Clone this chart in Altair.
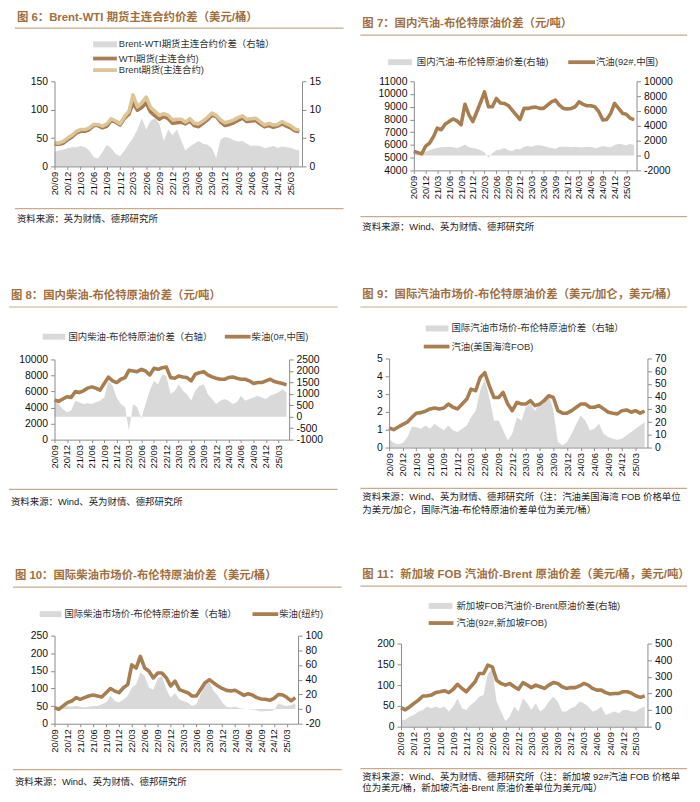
import altair as alt
import pandas as pd

FONT = "'Liberation Sans', 'Noto Sans CJK SC', sans-serif"
TITLE_COLOR = "#a0703f"
RULE_COLOR = "#c8aa8c"
AREA_COLOR = "#d9d9d9"
LINE_BROWN = "#a87d50"
LINE_TAN = "#dcc597"
AXIS_COLOR = "#8c8c8c"
CELL_W, CELL_H = 342, 261

# monthly observations, 2020-09 .. 2025-05
months = pd.date_range("2020-09-01", periods=57, freq="MS")

# Fig 6: Brent / WTI futures (USD/bbl) and Brent-WTI spread (right axis)
brent6 = [42, 41, 44, 50, 55, 62, 65, 65, 68, 74, 74, 71, 75, 84, 80, 75, 88, 97, 126, 105,
          112, 122, 104, 97, 90, 93, 90, 82, 83, 83, 78, 84, 76, 75, 80, 86, 94, 90, 82, 77,
          79, 82, 86, 89, 83, 84, 85, 79, 73, 76, 73, 74, 79, 75, 72, 66, 64]
wti6 = [39, 39, 41, 47, 52, 59, 62, 62, 65, 72, 72, 68, 71, 81, 78, 73, 85, 92, 112, 99,
        104, 112, 96, 89, 83, 88, 84, 76, 77, 78, 75, 80, 72, 70, 76, 82, 90, 88, 78, 72,
        74, 77, 81, 85, 79, 80, 81, 75, 70, 72, 69, 71, 75, 71, 68, 63, 61]
spread6 = [2.6, 2.8, 3.0, 3.2, 3.4, 3.4, 3.6, 3.4, 2.8, 1.6, 1.4, 2.6, 3.8, 3.2, 2.2, 1.8, 2.8, 4.0, 5.0, 6.5,
           8.5, 6.5, 8.0, 8.5, 7.5, 4.5, 6.5, 5.5, 6.5, 4.5, 2.8, 3.5, 4.0, 4.5, 4.0, 3.8, 3.2, 1.5, 4.8, 5.2,
           5.0, 4.6, 4.4, 4.5, 4.0, 3.6, 3.7, 3.6, 3.2, 3.4, 3.6, 3.3, 3.5, 3.4, 3.3, 3.0, 2.8]

# Fig 7: domestic gasoline (CNY/t) and spread vs Brent (right axis)
gas7 = [5500, 5400, 5300, 5900, 6150, 6670, 7320, 7190, 7630, 7840, 8040, 7890, 7580, 9200, 8360, 7840, 8610, 9390, 10170, 9000,
        9000, 9650, 9300, 9260, 9100, 8740, 8360, 8000, 8870, 8870, 8940, 8970, 8870, 8870, 9130, 9390, 9520, 9130, 8870, 8820,
        8870, 9000, 9390, 9190, 9080, 9080, 9000, 8610, 7970, 8000, 8480, 9260, 8870, 8480, 8410, 8100, 7970]
spread7 = [300, 250, 400, 500, 700, 900, 1000, 1100, 1150, 1200, 1100, 1000, 1200, 1500, 1100, 1000, 900, 700, 400, -300,
           300, 700, 800, 1000, 700, 600, 900, 800, 1200, 1300, 1200, 1400, 1400, 1300, 1100, 1000, 900, 1200, 1200, 1200,
           1100, 1200, 1100, 1100, 1200, 1200, 1000, 1100, 1300, 1200, 1100, 1400, 1600, 1500, 1400, 1600, 1400]

# Fig 8: domestic diesel (CNY/t) and spread vs Brent (right axis)
diesel8 = [4940, 4770, 5060, 5350, 5270, 6000, 5880, 6090, 6420, 6580, 6420, 6170, 7000, 7800, 7330, 7120, 7530, 7740, 8640, 8560,
           8480, 8770, 8560, 8070, 8890, 8770, 8970, 9050, 7740, 7650, 7940, 7820, 7740, 7330, 8150, 8350, 8480, 8070, 7820, 7650,
           7530, 7530, 7740, 7820, 7650, 7530, 7530, 7330, 7000, 7120, 7120, 7330, 7530, 7240, 7120, 7000, 6830]
spread8 = [700, 555, 340, 195, 270, 700, 630, 555, 585, 555, 630, 700, 840, 1560, 1350, 840, 555, 410, -600, 555,
           410, -90, 555, 1130, 1560, 1420, 1850, 1780, 990, 1130, 1420, 1130, 990, 700, 1130, 1350, 1420, 990, 770, 555,
           700, 770, 700, 555, 630, 915, 700, 770, 840, 915, 840, 770, 915, 990, 1060, 1200, 1060]

# Fig 9: US Gulf FOB gasoline (USD/gal) and spread vs Brent (USD/bbl, right axis)
gas9 = [1.11, 1.0, 1.15, 1.30, 1.43, 1.70, 1.93, 1.96, 2.04, 2.17, 2.22, 2.17, 2.22, 2.44, 2.26, 2.17, 2.44, 2.72, 3.28, 3.19,
        3.93, 4.2, 3.46, 2.81, 2.81, 3.09, 2.44, 2.07, 2.54, 2.44, 2.44, 2.63, 2.35, 2.44, 2.63, 2.91, 2.81, 2.07, 1.93, 1.93,
        2.07, 2.26, 2.44, 2.44, 2.26, 2.26, 2.35, 2.17, 1.98, 1.93, 1.89, 2.07, 2.11, 1.98, 2.07, 1.93, 2.04]
spread9 = [7, 3.6, 2.6, 3.6, 8.3, 16.6, 16, 14.8, 17.4, 14.8, 18.7, 16, 13.5, 17.4, 13.5, 12.2, 14.8, 17.4, 23.9, 29,
           44.6, 53.7, 39.4, 21.3, 21.3, 13.5, 5.7, 10.9, 23.9, 21.3, 31.6, 34.2, 29, 34.2, 39.4, 42, 29, 4.4, 1.8, 4.4,
           10.9, 18.7, 25.1, 21.3, 13.5, 14.8, 18.7, 10.9, 8.3, 7, 6.2, 7, 9.6, 12.2, 14.8, 17.4, 20]

# Fig 10: NY diesel (USD/bbl) and spread vs Brent (right axis)
diesel10 = [45.9, 41, 50.6, 60, 64.6, 74, 69, 74, 78.7, 81.5, 78.7, 75.8, 88, 100, 92.7, 88, 102, 111, 167, 158,
            191, 158, 149, 130, 144, 144, 130, 107, 121, 97, 92.7, 88, 78.7, 78.7, 97, 116, 125, 116, 107, 100,
            94.6, 92.7, 95, 88, 80.5, 85, 81.5, 74, 70, 69.3, 66.5, 72, 83, 81.5, 75, 64.6, 74]
spread10 = [0, 1, 2, 4, 3, 4, 3, 2, 3, 4, 4, 6.5, 9, 18, 11, 9, 13, 18, 29, 33.5,
            50, 45, 29, 26.7, 42, 45, 26.7, 15.5, 22, 13, 11, 9, 4, 6.5, 20, 35, 37, 24.5, 18, 9,
            3, 2, 3, 1, 0.3, 0.2, -0.7, -1.6, -3.4, -2.5, -2.5, -1.6, 7.4, 5.6, 4, 5.6, 7.4]

# Fig 11: Singapore 92# FOB gasoline (USD/bbl) and spread vs Brent (USD/t, right axis)
gas11 = [46, 40.5, 48, 56, 64, 74, 74, 76, 82, 84, 86.5, 82, 90, 102, 92, 84, 96, 108, 128, 128,
         148, 144, 112, 104, 100, 104, 96, 90, 106, 100, 94, 100, 96, 92, 100, 106, 104, 96, 92, 94,
         94, 98, 104, 100, 92, 88, 88, 82, 78.6, 80, 80, 84, 84, 80, 74, 70.6, 74]
spread11 = [42, 42, 61.5, 71, 91, 101, 121, 111, 121, 111, 121, 91, 121, 171, 111, 101, 131, 151, 180, 190,
            319, 349, 151, 91, 32, 61.5, 121, 91, 171, 141, 101, 141, 91, 111, 151, 180, 151, 91, 91, 111,
            121, 151, 141, 121, 91, 101, 121, 71, 81, 91, 81, 101, 101, 91, 91, 111, 121]

tick_dates = [alt.DateTime(year=2020 + (8 + 3 * i) // 12, month=(8 + 3 * i) % 12 + 1, date=1) for i in range(19)]
x_domain = [alt.DateTime(year=2020, month=9, date=1), alt.DateTime(year=2025, month=5, date=20)]

one = pd.DataFrame({"k": [0]})


def text_layer(txt, x, y, size, color="#222222", weight="normal"):
    return alt.Chart(one).mark_text(
        text=txt, align="left", baseline="middle", font=FONT, fontSize=size,
        fontWeight=weight, color=color
    ).encode(x=alt.value(x), y=alt.value(y))


def hrule(x1, x2, y, color, width):
    return alt.Chart(one).mark_rule(color=color, strokeWidth=width).encode(
        x=alt.value(x1), x2=alt.value(x2), y=alt.value(y))


def rect(x1, x2, y1, y2, color):
    return alt.Chart(one).mark_rect(color=color).encode(
        x=alt.value(x1), x2=alt.value(x2), y=alt.value(y1), y2=alt.value(y2))


def xaxis():
    return alt.Axis(values=tick_dates, format="%y/%m", labelAngle=270, labelFontSize=9.5,
                    labelFont=FONT, labelColor="#111111", domainColor=AXIS_COLOR, tickColor=AXIS_COLOR,
                    tickSize=3, labelPadding=2, labelOverlap=False, labelFlush=False, title=None,
                    grid=False, zindex=2)


def yaxis(orient, ticks):
    return alt.Axis(orient=orient, values=ticks, labelExpr="'' + datum.value", labelFontSize=10.5,
                    labelFont=FONT, labelColor="#111111", domainColor=AXIS_COLOR, tickColor=AXIS_COLOR,
                    tickSize=4, labelPadding=3, title=None, grid=False, zindex=2)


def panel(plot, title, title_y, rule, legend, bottom_y, sources,
          area_vals, area_dom, area_ticks, lines, line_dom, line_ticks):
    # all geometry in cell-local pixels
    px, py, pw, ph = plot
    rx1, rx2 = rule[0], rule[1]

    def dx(v):
        return v - px

    def dy(v):
        return v - py

    tx0 = rx1 + 2
    layers = [rect(dx(0), dx(CELL_W), dy(0), dy(CELL_H), "white")]
    layers.append(text_layer(title, dx(tx0), dy(title_y), 11.5, TITLE_COLOR, "bold"))
    layers.append(hrule(dx(rx1), dx(rx2), dy(rule[2]), RULE_COLOR, 1.2))
    for kind, x1, x2, y, color, label, tx in legend:
        if kind == "area":
            layers.append(rect(dx(x1), dx(x2), dy(y) - 3, dy(y) + 3, color))
        else:
            layers.append(hrule(dx(x1), dx(x2), dy(y), color, 3.8))
        layers.append(text_layer(label, dx(tx), dy(y), 9.5, "#333333"))

    data = {"date": months, "area": area_vals}
    for name, vals, _c in lines:
        data[name] = vals
    df = pd.DataFrame(data)
    xenc = alt.X("date:T", scale=alt.Scale(domain=x_domain, nice=False), axis=xaxis())

    area = alt.Chart(df).mark_area(color=AREA_COLOR, opacity=1).encode(
        x=xenc,
        y=alt.Y("area:Q", scale=alt.Scale(domain=area_dom, nice=False, zero=False),
                axis=yaxis("right", area_ticks)),
        y2=alt.datum(0),
    )
    layers.append(area)
    for i, (name, vals, color) in enumerate(lines):
        ax = yaxis("left", line_ticks) if i == 0 else None
        ln = alt.Chart(df).mark_line(color=color, strokeWidth=3.6, strokeJoin="round").encode(
            x=xenc,
            y=alt.Y(f"{name}:Q", scale=alt.Scale(domain=line_dom, nice=False, zero=False), axis=ax),
        )
        layers.append(ln)

    layers.append(hrule(dx(rx1), dx(rx2), dy(bottom_y), RULE_COLOR, 1.2))
    for sy, stext in sources:
        layers.append(text_layer(stext, dx(tx0), dy(sy), 9.5, "#222222"))

    return alt.layer(*layers).resolve_scale(y="independent").properties(width=pw, height=ph)


p6 = panel(
    (40, 70, 250, 86),
    "图 6：Brent-WTI 期货主连合约价差（美元/桶）", 6, (0, 332, 16.3),
    [("area", 79, 103, 32.7, AREA_COLOR, "Brent-WTI期货主连合约价差（右轴）", 105),
     ("line", 79, 103, 47, LINE_BROWN, "WTI期货(主连合约)", 105),
     ("line", 79, 103, 58.7, LINE_TAN, "Brent期货(主连合约)", 105)],
    198.7, [(209, "资料来源：英为财情、德邦研究所")],
    spread6, [0, 15], [0, 5, 10, 15],
    [("wti", wti6, LINE_BROWN), ("brent", brent6, LINE_TAN)], [0, 150], [0, 50, 100, 150],
)

p7 = panel(
    (61, 63, 225, 90),
    "图 7：国内汽油-布伦特原油价差（元/吨）", 5.3, (7, 337, 16.3),
    [("area", 35, 59, 43.7, AREA_COLOR, "国内汽油-布伦特原油价差(右轴)", 64),
     ("line", 217, 244, 43.7, LINE_BROWN, "汽油(92#,中国)", 245)],
    199.7, [(210, "资料来源：Wind、英为财情、德邦研究所")],
    spread7, [-2000, 10000], list(range(-2000, 10001, 2000)),
    [("gas", gas7, LINE_BROWN)], [4000, 11000], list(range(4000, 11001, 1000)),
)

p8 = panel(
    (46, 83, 237, 81),
    "图 8：国内柴油-布伦特原油价差（元/吨）", 19.3, (0, 332, 30),
    [("area", 34, 57, 60, AREA_COLOR, "国内柴油-布伦特原油价差（右轴）", 60),
     ("line", 218, 244, 60, LINE_BROWN, "柴油(0#,中国)", 245)],
    214.3, [(227, "资料来源：Wind、英为财情、德邦研究所")],
    spread8, [-1000, 2500], list(range(-1000, 2501, 500)),
    [("diesel", diesel8, LINE_BROWN)], [0, 10000], list(range(0, 10001, 2000)),
)

p9 = panel(
    (36, 82, 261, 90),
    "图 9：国际汽油市场价-布伦特原油价差（美元/加仑，美元/桶）", 18.3, (7, 337, 30),
    [("area", 73, 96, 51.7, AREA_COLOR, "国际汽油市场价-布伦特原油价差（右轴）", 99),
     ("line", 71, 97, 70, LINE_BROWN, "汽油(美国海湾FOB)", 99)],
    213.3, [(221.7, "资料来源：Wind、英为财情、德邦研究所（注：汽油美国海湾 FOB 价格单位"),
            (235, "为美元/加仑，国际汽油-布伦特原油价差单位为美元/桶）")],
    spread9, [0, 70], list(range(0, 71, 10)),
    [("gas", gas9, LINE_BROWN)], [0, 5], [0, 1, 2, 3, 4, 5],
)

p10 = panel(
    (42, 100, 246, 89),
    "图 10：国际柴油市场价-布伦特原油价差（美元/桶）", 40, (0, 332, 51),
    [("area", 27, 49, 78.3, AREA_COLOR, "国际柴油市场价-布伦特原油价差（右轴）", 52),
     ("line", 242, 268, 78.3, LINE_BROWN, "柴油(纽约)", 269)],
    235.3, [(247.7, "资料来源：Wind、英为财情、德邦研究所")],
    spread10, [-20, 100], list(range(-20, 101, 20)),
    [("diesel", diesel10, LINE_BROWN)], [0, 250], list(range(0, 251, 50)),
)

p11 = panel(
    (48, 109, 249, 84),
    "图 11：新加坡 FOB 汽油价-Brent 原油价差（美元/桶，美元/吨）", 40, (7, 337, 51),
    [("area", 76, 100, 71, AREA_COLOR, "新加坡FOB汽油价-Brent原油价差(右轴)", 104),
     ("line", 76, 101, 88.3, LINE_BROWN, "汽油(92#,新加坡FOB)", 104)],
    235.3, [(244, "资料来源：Wind、英为财情、德邦研究所（注：新加坡 92#汽油 FOB 价格单"),
            (255.3, "位为美元/桶，新加坡汽油-Brent 原油价差单位为美元/吨）")],
    spread11, [0, 500], list(range(0, 501, 100)),
    [("gas", gas11, LINE_BROWN)], [0, 200], [0, 50, 100, 150, 200],
)

chart = alt.concat(p6, p7, p8, p9, p10, p11, columns=2, spacing=0, align="none", bounds="full").properties(
    padding=0
).configure_view(stroke=None)

chart.save("out.html", embed_options={"renderer": "svg", "actions": False})
